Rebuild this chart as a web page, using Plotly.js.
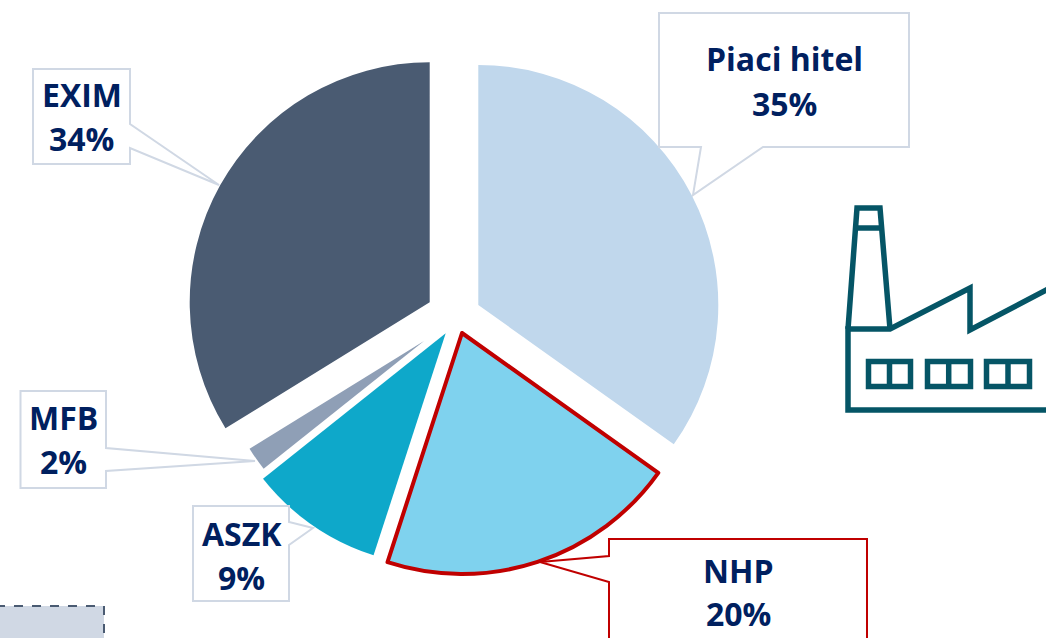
<!DOCTYPE html>
<html>
<head>
<meta charset="utf-8">
<script src="https://cdn.plot.ly/plotly-3.0.1.min.js"></script>
<style>html,body{margin:0;padding:0;background:#fff;overflow:hidden}#chart{width:1046px;height:638px}</style>
</head>
<body>
<div id="chart"></div>
<script>
const categories = ["Piaci hitel", "NHP", "ASZK", "MFB", "EXIM"];
const labelShares = [35, 20, 9, 2, 34];
const sliceShares = [34.85, 20.15, 9.3, 1.9, 33.8];
const sliceColors = ["#c0d7ec", "#7fd2ee", "#0ea8ca", "#8f9fb6", "#4a5b72"];
// exploded position of each wedge: apex x, apex y, radius (px)
const sliceApexX = [478.3, 462, 445.7, 424, 429.7];
const sliceApexY = [305, 333, 333.3, 341, 302.3];
const sliceRadius = [240, 241, 233.5, 205, 240];

const W = 1046, H = 638;
const TEXT = "#00205f", GREY = "#d0d8e4", RED = "#c00000", TEAL = "#055566";
const px = x => x / W, py = y => 1 - y / H;
const P = pts => pts.map((p, i) => (i ? "L" : "M") + px(p[0]).toFixed(5) + "," + py(p[1]).toFixed(5)).join(" ");
const pathShape = (pts, color, width, close, fill) => ({
  type: "path", xref: "paper", yref: "paper", layer: "above",
  path: P(pts) + (close ? " Z" : ""),
  line: { color: color, width: width },
  fillcolor: fill || "rgba(0,0,0,0)"
});

// callouts
const callouts = [
  { i: 0, c: GREY, pts: [[659,13],[909,13],[909,147],[763,147],[693,195],[701,147],[659,147]], tx: 784, ty: [59,103] },
  { i: 4, c: GREY, pts: [[33,69],[130,69],[130,124],[219,185],[130,148],[130,164],[33,164]], tx: 81.5, ty: [95,139] },
  { i: 3, c: GREY, pts: [[20.5,391],[106,391],[106,448],[255,461],[106,471],[106,488],[20.5,488]], tx: 63, ty: [417,461] },
  { i: 2, c: GREY, pts: [[193,506],[289,506],[289,522],[313,528],[289,545],[289,601],[193,601]], tx: 241.5, ty: [533,577] },
  { i: 1, c: RED,  pts: [[609,539],[867,539],[867,650],[609,650],[609,582],[540,562],[609,556]], tx: 738, ty: [570,613] }
];

const shapes = callouts.map(c => pathShape(c.pts, c.c, 2, true, "#ffffff"));
const annotations = [];
callouts.forEach(c => {
  [categories[c.i], labelShares[c.i] + "%"].forEach((t, k) => annotations.push({
    xref: "paper", yref: "paper", x: px(c.tx), y: py(c.ty[k]), xanchor: "center", yanchor: "middle",
    showarrow: false, text: "<b>" + t + "</b>",
    font: { family: "Open Sans", size: 32, color: TEXT }
  }));
});

// factory icon
[
  [[1052,410],[848,410],[848,329],[890,329],[970,288],[970,330],[1052,287]],
  [[848,329],[857,208],[880,208],[890,329]],
  [[855,228],[882,228]],
  [[868.5,361.5],[910.5,361.5],[910.5,386.5],[868.5,386.5]],
  [[927.5,361.5],[970.5,361.5],[970.5,386.5],[927.5,386.5]],
  [[986.5,361.5],[1029.5,361.5],[1029.5,386.5],[986.5,386.5]]
].forEach((p, i) => shapes.push(pathShape(p, TEAL, 5.5, i >= 3)));
[889.5, 948.7, 1008].forEach(x => shapes.push(pathShape([[x,361.5],[x,386.5]], TEAL, 5.5, false)));

// corner box
shapes.push({
  type: "rect", xref: "paper", yref: "paper", layer: "above",
  x0: px(-5), x1: px(104), y0: py(650), y1: py(606),
  fillcolor: GREY, line: { color: "#4a5b72", width: 2, dash: "dash" }
});

// each wedge is its own pie trace so it can have its own explosion and radius
let cumulative = 0;
const traces = categories.map((name, i) => {
  const start = cumulative;
  cumulative += sliceShares[i];
  const isNHP = name === "NHP";
  return {
    type: "pie", labels: [name, " "], values: [sliceShares[i], 100 - sliceShares[i]],
    sort: false, direction: "clockwise", rotation: start * 3.6,
    textinfo: "none", hoverinfo: "skip", showlegend: false,
    marker: {
      colors: [sliceColors[i], "rgba(0,0,0,0)"],
      line: { color: [isNHP ? RED : "rgba(0,0,0,0)", "rgba(0,0,0,0)"], width: [isNHP ? 4 : 0, 0] }
    },
    domain: {
      x: [px(sliceApexX[i] - sliceRadius[i]), px(sliceApexX[i] + sliceRadius[i])],
      y: [py(sliceApexY[i] + sliceRadius[i]), py(sliceApexY[i] - sliceRadius[i])]
    }
  };
});

Plotly.newPlot("chart", traces, {
  width: W, height: H,
  margin: { l: 0, r: 0, t: 0, b: 0 },
  paper_bgcolor: "#ffffff",
  showlegend: false,
  shapes: shapes,
  annotations: annotations
}, { displayModeBar: false, responsive: false });
</script>
</body>
</html>
